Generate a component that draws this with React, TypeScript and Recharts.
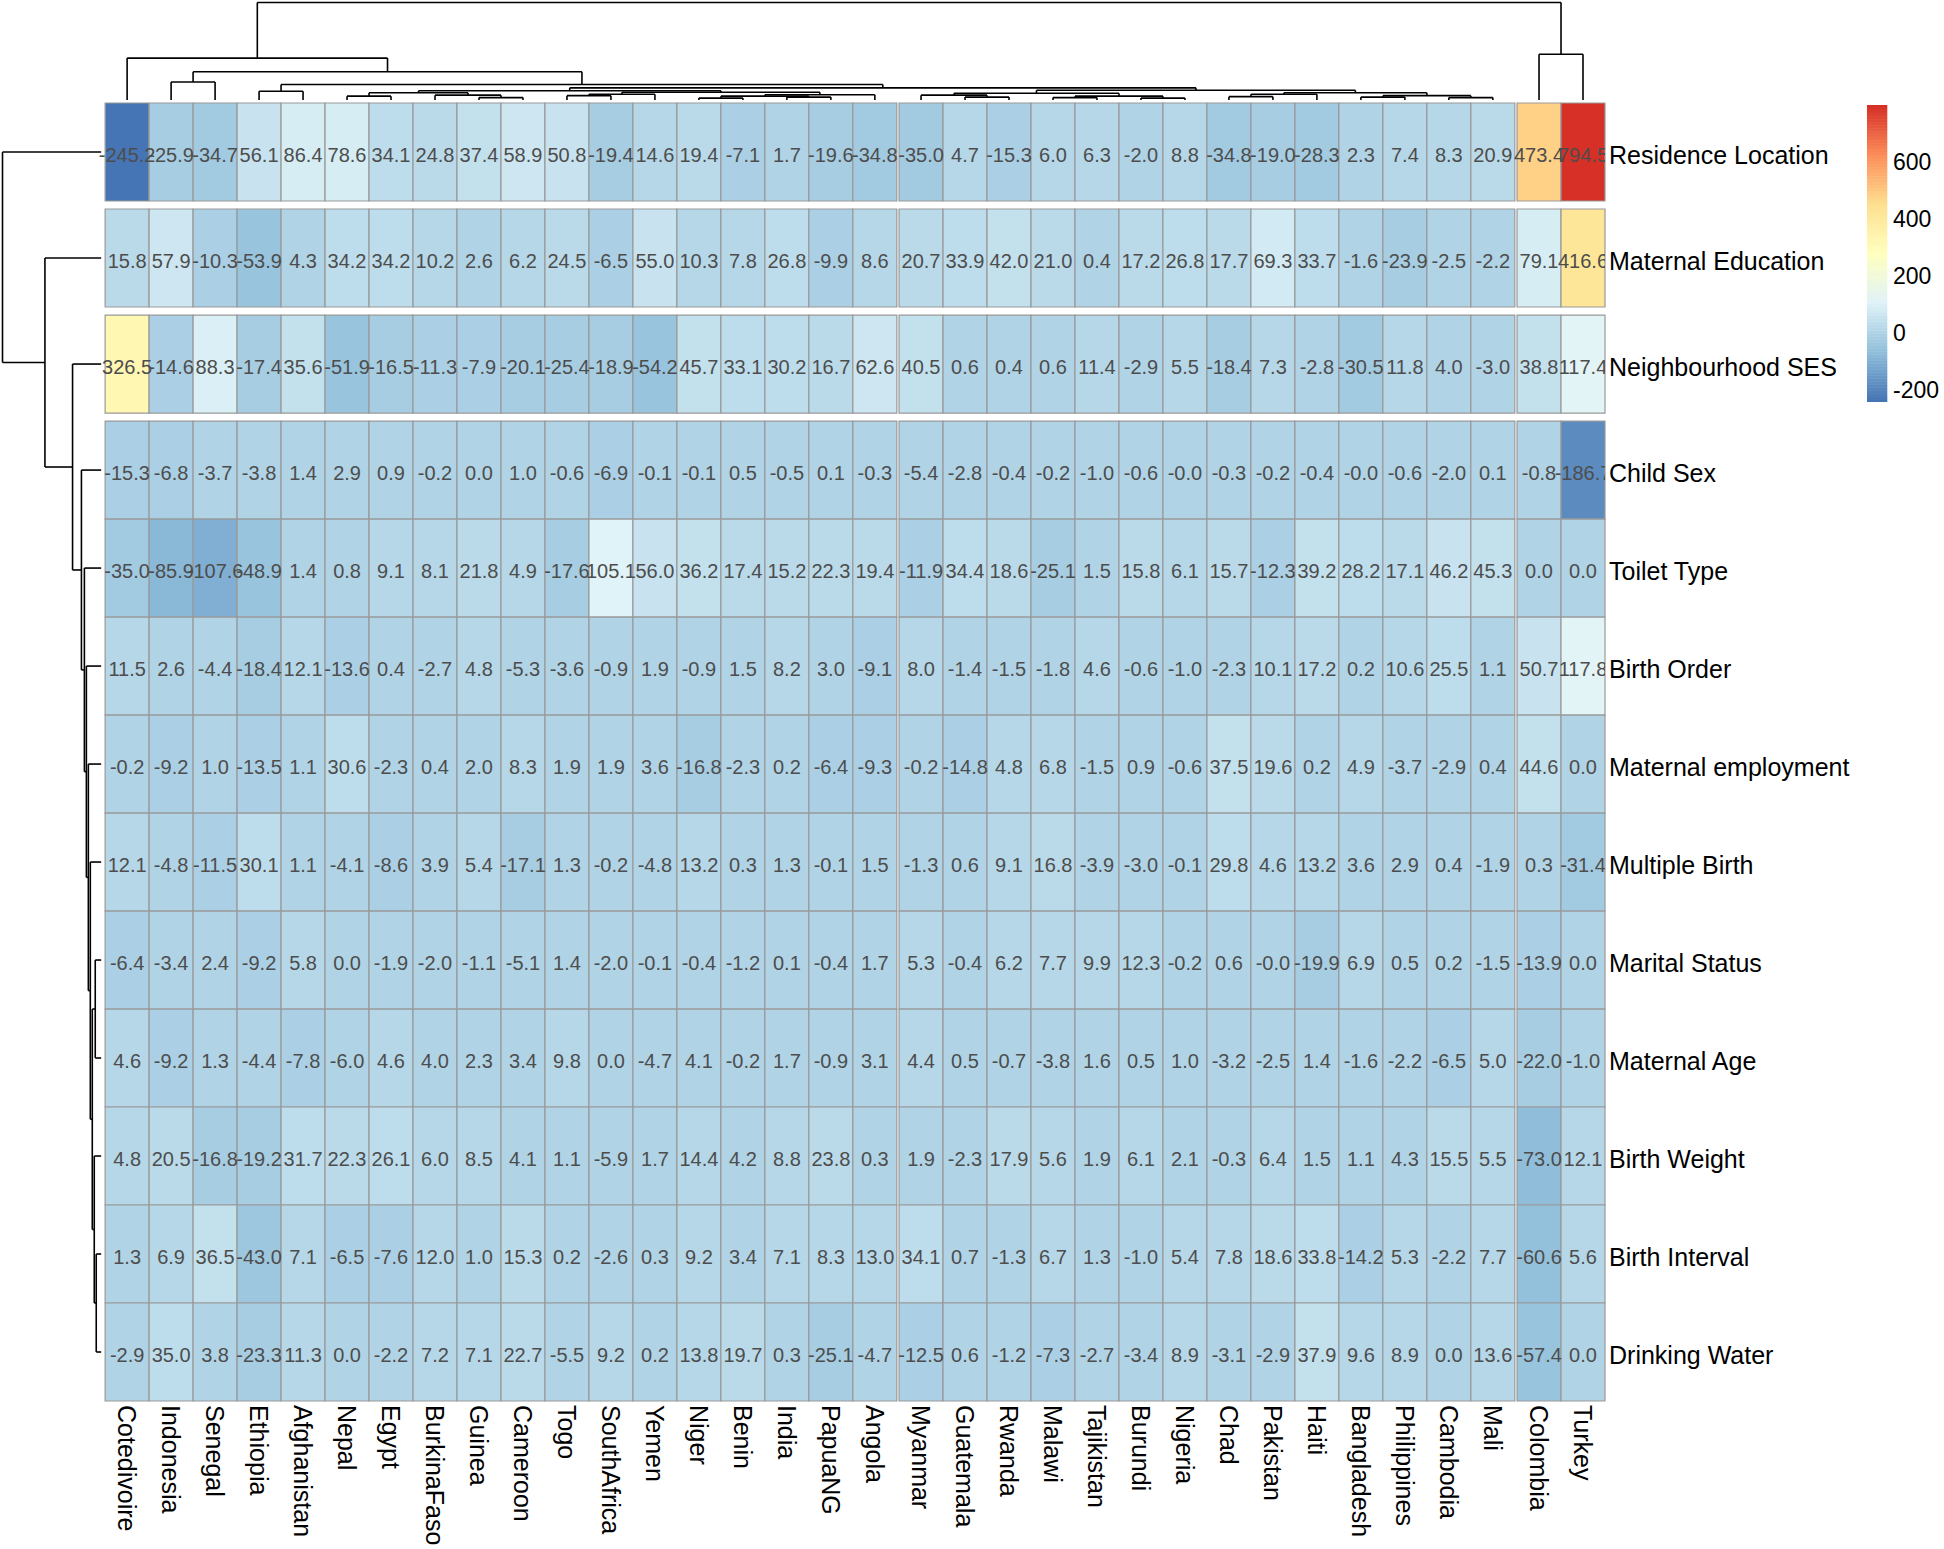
import React from 'react';
import { ComposedChart, XAxis, YAxis, ReferenceArea, ReferenceLine, Scatter } from 'recharts';

const countries = [
  'Cotedivoire', 'Indonesia', 'Senegal', 'Ethiopia', 'Afghanistan', 'Nepal', 'Egypt', 'BurkinaFaso',
  'Guinea', 'Cameroon', 'Togo', 'SouthAfrica', 'Yemen', 'Niger', 'Benin', 'India', 'PapuaNG', 'Angola',
  'Myanmar', 'Guatemala', 'Rwanda', 'Malawi', 'Tajikistan', 'Burundi', 'Nigeria', 'Chad', 'Pakistan',
  'Haiti', 'Bangladesh', 'Philippines', 'Cambodia', 'Mali', 'Colombia', 'Turkey',
];

const variables = [
  'Residence Location', 'Maternal Education', 'Neighbourhood SES', 'Child Sex', 'Toilet Type',
  'Birth Order', 'Maternal employment', 'Multiple Birth', 'Marital Status', 'Maternal Age',
  'Birth Weight', 'Birth Interval', 'Drinking Water',
];

const residenceLocation = [-245.2, -25.9, -34.7, 56.1, 86.4, 78.6, 34.1, 24.8, 37.4, 58.9, 50.8, -19.4, 14.6, 19.4, -7.1, 1.7, -19.6, -34.8, -35.0, 4.7, -15.3, 6.0, 6.3, -2.0, 8.8, -34.8, -19.0, -28.3, 2.3, 7.4, 8.3, 20.9, 473.4, 794.5];
const maternalEducation = [15.8, 57.9, -10.3, -53.9, 4.3, 34.2, 34.2, 10.2, 2.6, 6.2, 24.5, -6.5, 55.0, 10.3, 7.8, 26.8, -9.9, 8.6, 20.7, 33.9, 42.0, 21.0, 0.4, 17.2, 26.8, 17.7, 69.3, 33.7, -1.6, -23.9, -2.5, -2.2, 79.1, 416.6];
const neighbourhoodSES = [326.5, -14.6, 88.3, -17.4, 35.6, -51.9, -16.5, -11.3, -7.9, -20.1, -25.4, -18.9, -54.2, 45.7, 33.1, 30.2, 16.7, 62.6, 40.5, 0.6, 0.4, 0.6, 11.4, -2.9, 5.5, -18.4, 7.3, -2.8, -30.5, 11.8, 4.0, -3.0, 38.8, 117.4];
const childSex = [-15.3, -6.8, -3.7, -3.8, 1.4, 2.9, 0.9, -0.2, 0.0, 1.0, -0.6, -6.9, -0.1, -0.1, 0.5, -0.5, 0.1, -0.3, -5.4, -2.8, -0.4, -0.2, -1.0, -0.6, -0.04, -0.3, -0.2, -0.4, -0.04, -0.6, -2.0, 0.1, -0.8, -186.7];
const toiletType = [-35.0, -85.9, -107.6, -48.9, 1.4, 0.8, 9.1, 8.1, 21.8, 4.9, -17.6, 105.1, 56.0, 36.2, 17.4, 15.2, 22.3, 19.4, -11.9, 34.4, 18.6, -25.1, 1.5, 15.8, 6.1, 15.7, -12.3, 39.2, 28.2, 17.1, 46.2, 45.3, 0.0, 0.0];
const birthOrder = [11.5, 2.6, -4.4, -18.4, 12.1, -13.6, 0.4, -2.7, 4.8, -5.3, -3.6, -0.9, 1.9, -0.9, 1.5, 8.2, 3.0, -9.1, 8.0, -1.4, -1.5, -1.8, 4.6, -0.6, -1.0, -2.3, 10.1, 17.2, 0.2, 10.6, 25.5, 1.1, 50.7, 117.8];
const maternalEmployment = [-0.2, -9.2, 1.0, -13.5, 1.1, 30.6, -2.3, 0.4, 2.0, 8.3, 1.9, 1.9, 3.6, -16.8, -2.3, 0.2, -6.4, -9.3, -0.2, -14.8, 4.8, 6.8, -1.5, 0.9, -0.6, 37.5, 19.6, 0.2, 4.9, -3.7, -2.9, 0.4, 44.6, 0.0];
const multipleBirth = [12.1, -4.8, -11.5, 30.1, 1.1, -4.1, -8.6, 3.9, 5.4, -17.1, 1.3, -0.2, -4.8, 13.2, 0.3, 1.3, -0.1, 1.5, -1.3, 0.6, 9.1, 16.8, -3.9, -3.0, -0.1, 29.8, 4.6, 13.2, 3.6, 2.9, 0.4, -1.9, 0.3, -31.4];
const maritalStatus = [-6.4, -3.4, 2.4, -9.2, 5.8, 0.0, -1.9, -2.0, -1.1, -5.1, 1.4, -2.0, -0.1, -0.4, -1.2, 0.1, -0.4, 1.7, 5.3, -0.4, 6.2, 7.7, 9.9, 12.3, -0.2, 0.6, -0.04, -19.9, 6.9, 0.5, 0.2, -1.5, -13.9, 0.0];
const maternalAge = [4.6, -9.2, 1.3, -4.4, -7.8, -6.0, 4.6, 4.0, 2.3, 3.4, 9.8, 0.0, -4.7, 4.1, -0.2, 1.7, -0.9, 3.1, 4.4, 0.5, -0.7, -3.8, 1.6, 0.5, 1.0, -3.2, -2.5, 1.4, -1.6, -2.2, -6.5, 5.0, -22.0, -1.0];
const birthWeight = [4.8, 20.5, -16.8, -19.2, 31.7, 22.3, 26.1, 6.0, 8.5, 4.1, 1.1, -5.9, 1.7, 14.4, 4.2, 8.8, 23.8, 0.3, 1.9, -2.3, 17.9, 5.6, 1.9, 6.1, 2.1, -0.3, 6.4, 1.5, 1.1, 4.3, 15.5, 5.5, -73.0, 12.1];
const birthInterval = [1.3, 6.9, 36.5, -43.0, 7.1, -6.5, -7.6, 12.0, 1.0, 15.3, 0.2, -2.6, 0.3, 9.2, 3.4, 7.1, 8.3, 13.0, 34.1, 0.7, -1.3, 6.7, 1.3, -1.0, 5.4, 7.8, 18.6, 33.8, -14.2, 5.3, -2.2, 7.7, -60.6, 5.6];
const drinkingWater = [-2.9, 35.0, 3.8, -23.3, 11.3, 0.0, -2.2, 7.2, 7.1, 22.7, -5.5, 9.2, 0.2, 13.8, 19.7, 0.3, -25.1, -4.7, -12.5, 0.6, -1.2, -7.3, -2.7, -3.4, 8.9, -3.1, -2.9, 37.9, 9.6, 8.9, 0.0, 13.6, -57.4, 0.0];

const rowValues = [
  residenceLocation, maternalEducation, neighbourhoodSES, childSex, toiletType, birthOrder,
  maternalEmployment, multipleBirth, maritalStatus, maternalAge, birthWeight, birthInterval, drinkingWater,
];

const legendTicks = [-200, 0, 200, 400, 600];

// rev(RdYlBu 7), pheatmap default
const palette = ['#4575B4', '#91BFDB', '#E0F3F8', '#FFFFBF', '#FEE090', '#FC8D59', '#D73027'];

// dendrograms: [left, right, height], height relative to the root
type Tree = number | [Tree, Tree, number];

const colTree: Tree = [
  [0,
    [[1, 2, 0.185],
      [[3, 4, 0.09],
        [
          [
            [[5, 6, 0.04], [7, [8, 9, 0.025], 0.05], 0.075],
            [[[10, 11, 0.045], 12, 0.06], [[[13, 14, 0.02], [15, 16, 0.03], 0.04], 17, 0.055], 0.08],
            0.095],
          [
            [[18, [19, 20, 0.03], 0.05], [[21, 22, 0.025], [23, 24, 0.02], 0.04], 0.07],
            [[[25, 26, 0.035], 27, 0.06], [[28, 29, 0.03], [30, 31, 0.025], 0.045], 0.075],
            0.1],
          0.125],
        0.16],
      0.29],
    0.43],
  [32, 33, 0.47],
  1.0];

const rowTree: Tree = [0,
  [1,
    [2,
      [3, [4, [5, [6, [7, [[8, 9, 0.06], [10, [11, 12, 0.05], 0.07], 0.09], 0.11], 0.13], 0.15], 0.17], 0.2],
      0.29],
    0.57],
  1.0];

// layout (data units: one cell = 1)
const COL_GAP = 0.05;
const ROW_GAP = 0.082;
const X_MIN = -2.39;
const X_MAX = 34 + 2 * COL_GAP;
const Y_MIN = -1.051;
const Y_MAX = 13 + 3 * ROW_GAP;
const FONT = 'Liberation Sans, Arial, sans-serif';

const colLeft = (i: number) => i + (i >= 18 ? COL_GAP : 0) + (i >= 32 ? COL_GAP : 0);
const rowTop = (r: number) => r + Math.min(r, 3) * ROW_GAP;
const colCenters = countries.map((_, i) => colLeft(i) + 0.5);
const rowCenters = variables.map((_, r) => rowTop(r) + 0.5);

const allValues = rowValues.flat();
const vMin = Math.min(...allValues);
const vMax = Math.max(...allValues);

const hex = (h: string) => [1, 3, 5].map((k) => parseInt(h.slice(k, k + 2), 16));
const ramp = (t: number) => {
  const p = t * (palette.length - 1);
  const i = Math.min(palette.length - 2, Math.floor(p));
  const f = p - i;
  const a = hex(palette[i]);
  const b = hex(palette[i + 1]);
  const c = a.map((v, k) => Math.round(v + (b[k] - v) * f));
  return `rgb(${c[0]},${c[1]},${c[2]})`;
};
const binColor = (k: number) => ramp(k / 99);
const valueColor = (v: number) => {
  const t = (v - vMin) / (vMax - vMin);
  return binColor(Math.max(0, Math.min(99, Math.floor(t * 100))));
};

const cells = rowValues.flatMap((vals, r) =>
  vals.map((v, c) => ({ r, c, v, x: colCenters[c], y: rowCenters[r] })),
);

// walk a tree, returning segments in (position, height) space
const dendro = (tree: Tree, leafPos: (i: number) => number) => {
  const segs: [number, number, number, number][] = [];
  const walk = (n: Tree): [number, number] => {
    if (typeof n === 'number') return [leafPos(n), 0];
    const [pa, ha] = walk(n[0]);
    const [pb, hb] = walk(n[1]);
    const h = n[2];
    segs.push([pa, ha, pa, h], [pb, hb, pb, h], [pa, h, pb, h]);
    return [(pa + pb) / 2, h];
  };
  walk(tree);
  return segs;
};

const colH = (h: number) => -0.03 - h * 0.996;
const rowH = (h: number) => -0.09 - h * 2.243;

const colSegs = dendro(colTree, (i) => colCenters[i]).map(([p1, h1, p2, h2]) => [
  { x: p1, y: colH(h1) }, { x: p2, y: colH(h2) },
]);
const rowSegs = dendro(rowTree, (i) => rowCenters[i]).map(([p1, h1, p2, h2]) => [
  { x: rowH(h1), y: p1 }, { x: rowH(h2), y: p2 },
]);

const CellText = (props: any) => {
  const { cx, cy, payload } = props;
  return (
    <text x={cx} y={cy} dy="0.5em" textAnchor="middle" fontSize={20} fill="#4D4D4D" fontFamily={FONT}>
      {payload.v.toFixed(1)}
    </text>
  );
};

const ColTick = (props: any) => {
  const { x, y, index } = props;
  return (
    <text x={x} y={y} dy="0.36em" transform={`rotate(90, ${x}, ${y})`} textAnchor="start" fontSize={25} fill="#000" fontFamily={FONT}>
      {countries[index]}
    </text>
  );
};

const RowTick = (props: any) => {
  const { x, y, index } = props;
  return (
    <text x={x} y={y} dy="0.48em" textAnchor="start" fontSize={25} fill="#000" fontFamily={FONT}>
      {variables[index]}
    </text>
  );
};

const LegendTick = (props: any) => {
  const { x, y, payload } = props;
  return (
    <text x={x} y={y} dy="0.4em" textAnchor="start" fontSize={23} fill="#000" fontFamily={FONT}>
      {payload.value}
    </text>
  );
};

const bins = Array.from({ length: 100 }, (_, k) => k);
const binStep = (vMax - vMin) / 100;

export default function App() {
  return (
    <div style={{ position: 'fixed', left: 0, top: 0, width: 1944, height: 1549, background: '#fff', overflow: 'hidden' }}>
      <ComposedChart width={1944} height={1549} margin={{ top: 0, right: 9, bottom: 8, left: 0 }}>
        <XAxis
          type="number"
          dataKey="x"
          domain={[X_MIN, X_MAX]}
          allowDataOverflow
          ticks={colCenters}
          interval={0}
          tick={ColTick}
          axisLine={false}
          tickLine={false}
          tickSize={0}
          tickMargin={4}
          height={140}
        />
        <YAxis
          type="number"
          dataKey="y"
          domain={[Y_MIN, Y_MAX]}
          reversed
          allowDataOverflow
          orientation="right"
          ticks={rowCenters}
          interval={0}
          tick={RowTick}
          axisLine={false}
          tickLine={false}
          tickSize={0}
          tickMargin={4}
          width={330}
        />
        {cells.map((d) => (
          <ReferenceArea
            key={`cell-${d.r}-${d.c}`}
            x1={colLeft(d.c)}
            x2={colLeft(d.c) + 1}
            y1={rowTop(d.r)}
            y2={rowTop(d.r) + 1}
            fill={valueColor(d.v)}
            fillOpacity={1}
            stroke="#999999"
            strokeWidth={1.2}
            ifOverflow="visible"
          />
        ))}
        {[...colSegs, ...rowSegs].map((s, i) => (
          <ReferenceLine key={`seg-${i}`} segment={s} stroke="#000" strokeWidth={1.6} ifOverflow="visible" />
        ))}
        <Scatter data={cells} isAnimationActive={false} shape={CellText} />
      </ComposedChart>

      <div style={{ position: 'absolute', left: 1867, top: 105 }}>
        <ComposedChart width={76} height={297} margin={{ top: 0, right: 0, bottom: 0, left: 0 }}>
          <XAxis type="number" dataKey="x" domain={[0, 1]} hide />
          <YAxis
            type="number"
            dataKey="y"
            domain={[vMin, vMax]}
            allowDataOverflow
            orientation="right"
            ticks={legendTicks}
            interval={0}
            tick={LegendTick}
            axisLine={false}
            tickLine={false}
            tickSize={0}
            tickMargin={6}
            width={56}
          />
          {bins.map((k) => (
            <ReferenceArea
              key={`bin-${k}`}
              x1={0}
              x2={1}
              y1={vMin + k * binStep}
              y2={vMin + (k + 1) * binStep}
              fill={binColor(k)}
              fillOpacity={1}
              stroke={binColor(k)}
              strokeWidth={0.6}
            />
          ))}
          <Scatter data={[{ x: 0.5, y: 0 }]} isAnimationActive={false} shape={() => null} />
        </ComposedChart>
      </div>
    </div>
  );
}
